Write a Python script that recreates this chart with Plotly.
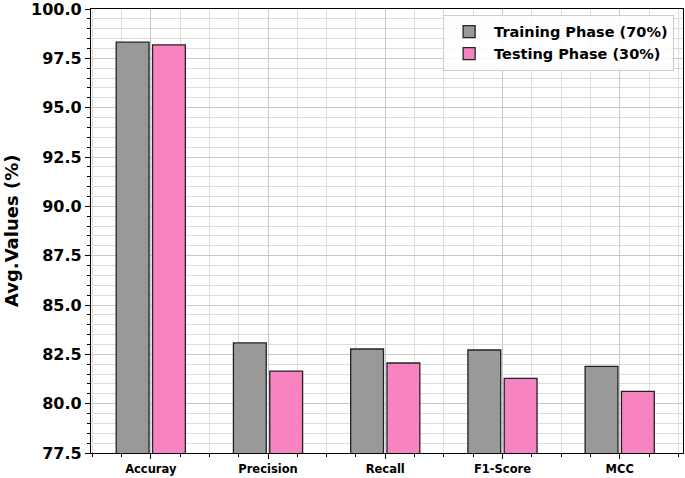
import plotly.graph_objects as go

# data
categories = ['Accuray', 'Precision', 'Recall', 'F1-Score', 'MCC']
training = [98.32, 83.08, 82.77, 82.72, 81.89]
testing = [98.18, 81.65, 82.06, 81.28, 80.62]
y_ticks = [77.5, 80.0, 82.5, 85.0, 87.5, 90.0, 92.5, 95.0, 97.5, 100.0]

font_family = 'DejaVu Sans'
x_pos = list(range(len(categories)))

fig = go.Figure()

fig.add_trace(go.Bar(
    x=x_pos, y=training, name='Training Phase (70%)',
    width=0.28, offset=-0.295,
    marker=dict(color='#999999', line=dict(color='#222222', width=1.3)),
))
fig.add_trace(go.Bar(
    x=x_pos, y=testing, name='Testing Phase (30%)',
    width=0.28, offset=0.015,
    marker=dict(color='#f783c0', line=dict(color='#222222', width=1.3)),
))

fig.update_xaxes(
    range=[-0.51, 4.54], automargin=False,
    tickvals=x_pos, ticktext=categories,
    tickfont=dict(family=font_family, size=11.5, color='black', weight='bold'),
    ticks='outside', ticklen=5, tickcolor='black',
    showgrid=True, gridcolor='#c8c8c8', gridwidth=1,
    minor=dict(dtick=0.25, tick0=0, ticks='outside', ticklen=3, tickcolor='black',
               showgrid=True, gridcolor='#dcdcdc', gridwidth=1),
    showline=True, linecolor='black', linewidth=1.2, mirror=True,
    zeroline=False,
)
fig.update_yaxes(
    range=[77.5, 100], automargin=False, ticklabeloverflow='allow',
    tickvals=y_ticks, ticktext=[f'{v:.1f}' for v in y_ticks],
    tickfont=dict(family=font_family, size=16, color='black', weight='bold'),
    ticks='outside', ticklen=5, tickcolor='black',
    showgrid=True, gridcolor='#c8c8c8', gridwidth=1,
    minor=dict(dtick=0.5, tick0=77.5, ticks='outside', ticklen=3, tickcolor='black',
               showgrid=True, gridcolor='#dcdcdc', gridwidth=1),
    showline=True, linecolor='black', linewidth=1.2, mirror=True,
    zeroline=False,
)

# y-axis title as an annotation so the margins stay fixed
fig.add_annotation(
    text='Avg.Values (%)', textangle=-90,
    xref='paper', yref='paper', x=-0.135, y=0.5,
    xanchor='center', yanchor='middle', showarrow=False,
    font=dict(family=font_family, size=18, color='black', weight='bold'),
)

fig.update_layout(
    width=685, height=478,
    margin=dict(l=91, r=2, t=9, b=25),
    plot_bgcolor='white', paper_bgcolor='white',
    showlegend=True,
    legend=dict(
        x=0.985, y=0.987, xanchor='right', yanchor='top',
        bgcolor='rgba(255,255,255,0.85)', bordercolor='#cccccc', borderwidth=1,
        font=dict(family=font_family, size=14.5, color='black', weight='bold'),
        tracegroupgap=2, itemwidth=40,
    ),
)

# drop the browser's default body margin so the figure sits at the page corner
fig.write_html("out.html", config={'displayModeBar': False},
               post_script="document.body.style.margin='0';")
